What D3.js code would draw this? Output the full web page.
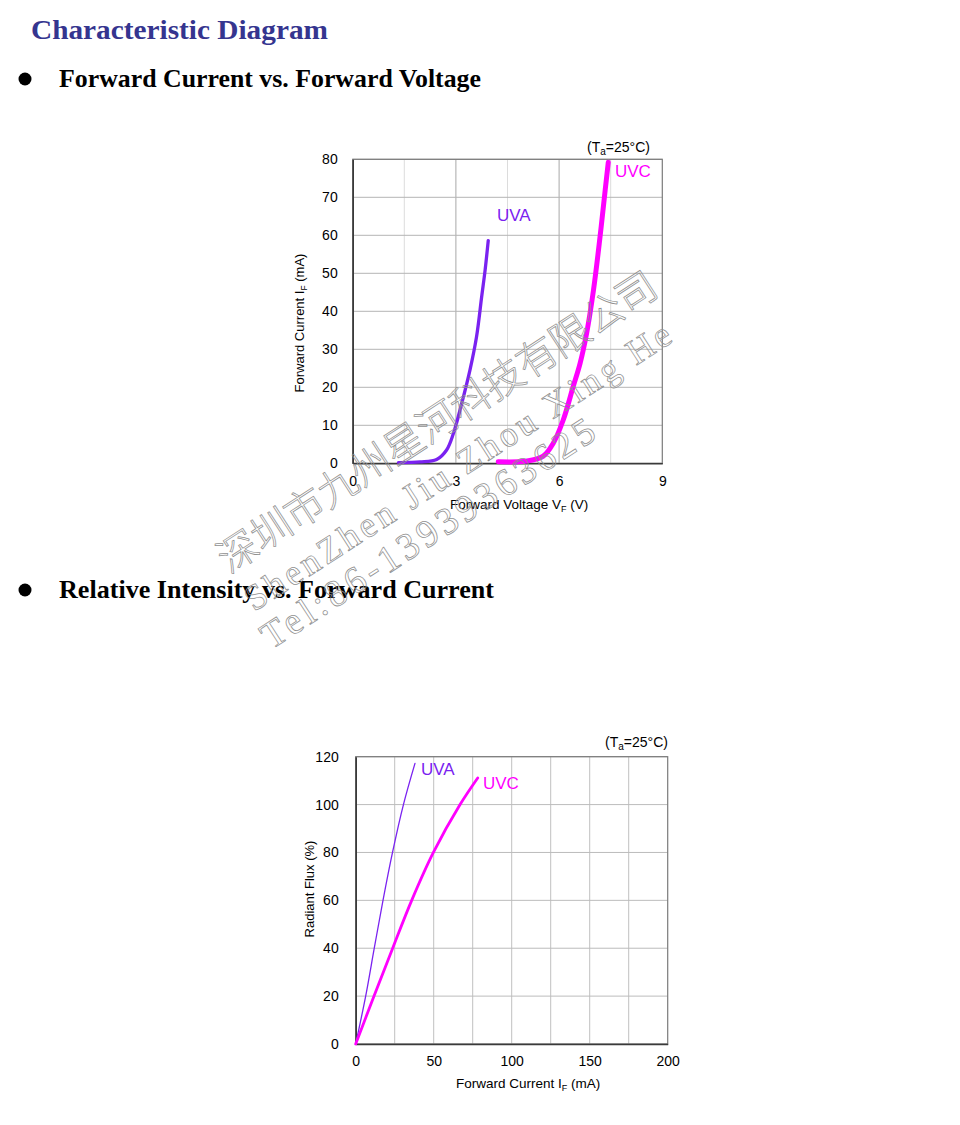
<!DOCTYPE html>
<html>
<head>
<meta charset="utf-8">
<script src="https://cdn.jsdelivr.net/npm/d3@7"></script>
<style>
  html, body { margin: 0; padding: 0; background: #fff; }
  svg { display: block; }
</style>
</head>
<body>
<script>
// ---------- Data ----------
// Chart 1: Forward Current vs Forward Voltage
const ivSeriesNames = ["UVA", "UVC"];
const uvaVF = [1.33, 1.96, 2.44, 2.73, 2.93, 3.17, 3.41, 3.60, 3.75, 3.85, 3.94];
const uvaIF = [0.2, 0.35, 1.0, 3.5, 7.9, 15.8, 24.6, 33.3, 43.9, 50.9, 58.6];
const uvcVF = [4.23, 5.06, 5.54, 5.83, 6.12, 6.41, 6.61, 6.80, 7.00, 7.19, 7.34, 7.43];
const uvcIF = [0.4, 0.6, 1.9, 5.3, 11.4, 20.2, 26.3, 34.2, 45.6, 59.6, 71.9, 79.2];
const ivXTicks = [0, 3, 6, 9];
const ivXMinor = [1.5, 4.5, 7.5];
const ivYTicks = [0, 10, 20, 30, 40, 50, 60, 70, 80];

// Chart 2: Relative Intensity vs Forward Current
const uvaCur = [0, 6.4, 11.9, 17.5, 23.6, 30.6, 38.0];
const uvaFlux = [0, 20, 40, 60, 80, 100, 117.2];
const uvcCur = [0, 11.75, 23.7, 35.9, 49.8, 66.9, 78.2];
const uvcFlux = [0, 20, 40, 60, 80, 100, 111.1];
const liXTicks = [0, 50, 100, 150, 200];
const liXGrid = [25, 50, 75, 100, 125, 150, 175];
const liYTicks = [0, 20, 40, 60, 80, 100, 120];

const headings = ["Characteristic Diagram", "Forward Current vs. Forward Voltage", "Relative Intensity vs. Forward Current"];
const watermarkLines = ["深圳市九州星河科技有限公司", "ShenZhen Jiu Zhou Xing He", "Tel:86-13939363625"];

// ---------- Styles ----------
const W = 960, H = 1125;
const cUVA = "#7a22f0", cUVC = "#ff00ff";
const sans = "Arial, 'Liberation Sans', Helvetica, sans-serif";
const serif = "'Liberation Serif', 'Times New Roman', serif";

const svg = d3.select("body").append("svg").attr("width", W).attr("height", H);
svg.append("rect").attr("width", W).attr("height", H).attr("fill", "#fff");

// ---------- Headings ----------
function heading(text, x, y, width, size, color) {
  svg.append("text").attr("x", x).attr("y", y)
    .attr("font-family", serif).attr("font-weight", "bold")
    .attr("font-size", size).attr("fill", color)
    .attr("textLength", width).attr("lengthAdjust", "spacingAndGlyphs")
    .text(text);
}
heading(headings[0], 31, 39, 297, 27, "#35358f");
heading(headings[1], 59, 87, 422, 26, "#000");
heading(headings[2], 59, 598, 435, 26, "#000");
svg.append("circle").attr("cx", 25).attr("cy", 79).attr("r", 6.5).attr("fill", "#000");
svg.append("circle").attr("cx", 25).attr("cy", 590).attr("r", 6.5).attr("fill", "#000");

// ---------- Generic chart ----------
function drawChart(o) {
  const g = svg.append("g");
  const x = d3.scaleLinear().domain(o.xDomain).range([o.left, o.right]);
  const y = d3.scaleLinear().domain(o.yDomain).range([o.bottom, o.top]);

  g.selectAll(".vminor").data(o.xMinor).join("line")
    .attr("x1", d => x(d)).attr("x2", d => x(d))
    .attr("y1", o.top).attr("y2", o.bottom)
    .attr("stroke", o.minorColor).attr("stroke-width", 1);
  g.selectAll(".vmajor").data(o.xGrid).join("line")
    .attr("x1", d => x(d)).attr("x2", d => x(d))
    .attr("y1", o.top).attr("y2", o.bottom)
    .attr("stroke", o.majorColor).attr("stroke-width", 1);
  g.selectAll(".hgrid").data(o.yTicks).join("line")
    .attr("x1", o.left).attr("x2", o.right)
    .attr("y1", d => y(d)).attr("y2", d => y(d))
    .attr("stroke", o.hColor).attr("stroke-width", 1);
  g.append("rect").attr("x", o.left).attr("y", o.top)
    .attr("width", o.right - o.left).attr("height", o.bottom - o.top)
    .attr("fill", "none").attr("stroke", "#7a7a7a").attr("stroke-width", 1.2);

  const xAxis = d3.axisBottom(x).tickValues(o.xTicks).tickSize(0).tickPadding(o.xPad).tickFormat(d3.format("d"));
  const yAxis = d3.axisLeft(y).tickValues(o.yTicks).tickSize(0).tickPadding(o.yPad).tickFormat(d3.format("d"));
  const gx = g.append("g").attr("transform", `translate(0,${o.bottom})`).call(xAxis);
  const gy = g.append("g").attr("transform", `translate(${o.left},0)`).call(yAxis);
  [gx, gy].forEach(a => {
    a.select(".domain").attr("stroke", "#3a3a3a").attr("stroke-width", 1.6);
    a.selectAll("text").attr("font-family", sans).attr("font-size", 14).attr("fill", "#000");
  });

  const line = d3.line().x(d => x(d[0])).y(d => y(d[1])).curve(d3.curveCatmullRom.alpha(0.5));
  o.series.forEach(s => {
    g.append("path").datum(d3.zip(s.xs, s.ys))
      .attr("d", line).attr("fill", "none")
      .attr("stroke", s.color).attr("stroke-width", s.width)
      .attr("stroke-linecap", "round").attr("stroke-linejoin", "round");
    g.append("text").attr("x", s.lx).attr("y", s.ly)
      .attr("font-family", sans).attr("font-size", 17).attr("fill", s.color)
      .text(s.name);
  });

  const ta = g.append("text").attr("x", o.taX).attr("y", o.taY)
    .attr("font-family", sans).attr("font-size", 14).attr("fill", "#000");
  ta.append("tspan").text("(T");
  ta.append("tspan").attr("font-size", 10).attr("dy", 3).text("a");
  ta.append("tspan").attr("dy", -3).text("=25°C)");

  const xt = g.append("text").attr("x", o.xtX).attr("y", o.xtY)
    .attr("font-family", sans).attr("font-size", 13.5).attr("fill", "#000");
  xt.append("tspan").text(o.xTitle[0]);
  xt.append("tspan").attr("font-size", 9).attr("dy", 3).text(o.xTitle[1]);
  xt.append("tspan").attr("dy", -3).text(o.xTitle[2]);

  const yt = g.append("text")
    .attr("transform", `translate(${o.ytX},${o.ytY}) rotate(-90)`)
    .attr("text-anchor", "middle")
    .attr("font-family", sans).attr("font-size", 13).attr("fill", "#000");
  yt.append("tspan").text(o.yTitle[0]);
  if (o.yTitle.length > 1) {
    yt.append("tspan").attr("font-size", 8.5).attr("dy", 3).text(o.yTitle[1]);
    yt.append("tspan").attr("dy", -3).text(o.yTitle[2]);
  }
}

drawChart({
  xDomain: [0, 9], yDomain: [0, 80],
  left: 352.7, right: 662.3, top: 159.3, bottom: 463.3,
  xTicks: ivXTicks, xGrid: [3, 6], xMinor: ivXMinor, yTicks: ivYTicks,
  minorColor: "#dcdcdc", majorColor: "#a8a8a8", hColor: "#b4b4b4",
  xPad: 13, yPad: 15,
  series: [
    { name: ivSeriesNames[0], xs: uvaVF, ys: uvaIF, color: cUVA, width: 3.3, lx: 497, ly: 221 },
    { name: ivSeriesNames[1], xs: uvcVF, ys: uvcIF, color: cUVC, width: 5, lx: 615, ly: 177 }
  ],
  taX: 587, taY: 152,
  xTitle: ["Forward Voltage V", "F", " (V)"], xtX: 450, xtY: 509,
  yTitle: ["Forward Current I", "F", " (mA)"], ytX: 304, ytY: 323
});

drawChart({
  xDomain: [0, 200], yDomain: [0, 120],
  left: 355.7, right: 667.7, top: 756.7, bottom: 1044,
  xTicks: liXTicks, xGrid: liXGrid, xMinor: [], yTicks: liYTicks,
  minorColor: "#c8c8c8", majorColor: "#c0c0c0", hColor: "#bcbcbc",
  xPad: 12, yPad: 17,
  series: [
    { name: ivSeriesNames[0], xs: uvaCur, ys: uvaFlux, color: cUVA, width: 1.3, lx: 421, ly: 775 },
    { name: ivSeriesNames[1], xs: uvcCur, ys: uvcFlux, color: cUVC, width: 2.8, lx: 483, ly: 789 }
  ],
  taX: 605, taY: 747,
  xTitle: ["Forward Current I", "F", " (mA)"], xtX: 456, xtY: 1088,
  yTitle: ["Radiant Flux (%)"], ytX: 314, ytY: 889
});

// ---------- Watermark ----------
const wm = svg.append("g").attr("fill", "none").attr("stroke", "#909090").attr("stroke-width", 0.75);
wm.append("text").attr("transform", "translate(229,574) rotate(-33)")
  .attr("font-family", "'Noto Sans CJK SC', sans-serif").attr("font-weight", 300).attr("font-size", 40)
  .attr("textLength", 515).attr("lengthAdjust", "spacing")
  .text(watermarkLines[0]);
wm.append("text").attr("transform", "translate(254,612) rotate(-32.8)")
  .attr("font-family", serif).attr("font-size", 36)
  .attr("textLength", 500).attr("lengthAdjust", "spacing")
  .text(watermarkLines[1]);
wm.append("text").attr("transform", "translate(271,650) rotate(-33)")
  .attr("font-family", serif).attr("font-size", 38)
  .attr("textLength", 390).attr("lengthAdjust", "spacing")
  .text(watermarkLines[2]);
</script>
</body>
</html>
